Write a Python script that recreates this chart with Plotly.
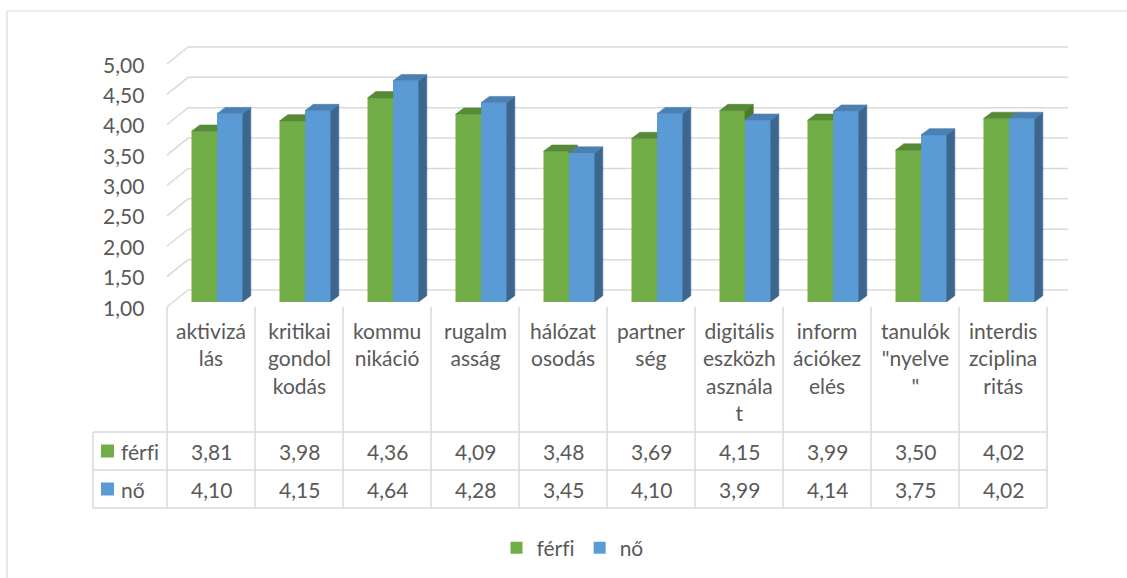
import plotly.graph_objects as go

# ---- data -------------------------------------------------------------
categories = [
    "aktivizá\nlás",
    "kritikai\ngondol\nkodás",
    "kommu\nnikáció",
    "rugalm\nasság",
    "hálózat\nosodás",
    "partner\nség",
    "digitális\neszközh\nasznála\nt",
    "inform\nációkez\nelés",
    "tanulók\n\"nyelve\n\"",
    "interdis\nzciplina\nritás",
]
ferfi = [3.81, 3.98, 4.36, 4.09, 3.48, 3.69, 4.15, 3.99, 3.50, 4.02]
no = [4.10, 4.15, 4.64, 4.28, 3.45, 4.10, 3.99, 4.14, 3.75, 4.02]
series_names = ["férfi", "nő"]
y_ticks = [1.0, 1.5, 2.0, 2.5, 3.0, 3.5, 4.0, 4.5, 5.0]

# ---- geometry / style -------------------------------------------------
W, H = 1127, 578
CAT_PX = 88.0          # pixels per category
X0_PX = 167.0          # left edge of first category
UNIT_PX = 60.75        # pixels per value unit
Y1_PX = 307.0          # pixel row of value 1.00 on the front plane


def X(px):
    return (px - X0_PX) / CAT_PX


def Y(py):
    return 1 + (Y1_PX - py) / UNIT_PX


lift = 5 / UNIT_PX                     # bar plane sits slightly behind the front
dx, dy = 8.3 / CAT_PX, 6.3 / UNIT_PX   # bar depth
wall_dx, wall_dy = 21 / CAT_PX, 17 / UNIT_PX  # back wall depth
bar_left, bar_w = 24.5 / CAT_PX, 25.5 / CAT_PX

TEXT = "#595959"
GRID = "#D9D9D9"
FONT = "Lato"
FS = 21

colors = {
    "férfi": dict(front="#70AD47", top="#568A36", side="#4C7A2F"),
    "nő": dict(front="#5B9BD5", top="#4A80B4", side="#3C6790"),
}


def fmt(v):
    return f"{v:.2f}".replace(".", ",")


def label(s):
    # keep "f" and "i" as separate glyphs (no typographic ligature)
    return s.replace("fi", "f\u200ci")


def poly_xy(polys):
    xs, ys = [], []
    for p in polys:
        if not p:
            continue
        for (a, b) in p:
            xs.append(a)
            ys.append(b)
        xs.append(p[0][0])
        ys.append(p[0][1])
        xs.append(None)
        ys.append(None)
    return xs, ys


def bar_faces(vals, offset, neighbour=None):
    """Top and side faces of the columns; the part hidden behind the
    neighbouring (right-hand) column is cut away."""
    tops, sides = [], []
    for i, v in enumerate(vals):
        x0 = i + offset
        x1 = x0 + bar_w
        t = v + lift
        b = 1 + lift
        full_top = [(x0, t), (x1, t), (x1 + dx, t + dy), (x0 + dx, t + dy)]
        if neighbour is None:
            tops.append(full_top)
            sides.append([(x1, b), (x1, t), (x1 + dx, t + dy), (x1 + dx, b + dy)])
            continue
        tb = neighbour[i] + lift
        if tb <= t:
            tops.append(full_top)
            if tb < t:
                sides.append([(x1, tb), (x1, t), (x1 + dx, t + dy), (x1 + dx, tb + dy)])
        elif tb >= t + dy:
            tops.append([(x0, t), (x1, t), (x1, t + dy), (x0 + dx, t + dy)])
        else:
            s = (t + dy - tb) / dy
            tops.append([(x0, t), (x1, t), (x1, tb), (x1 + dx * s, t + dy), (x0 + dx, t + dy)])
    return tops, sides


fig = go.Figure()

# front faces of the columns
series = [ferfi, no]
offsets = [bar_left, bar_left + bar_w]
for name, vals, off in zip(series_names, series, offsets):
    fig.add_trace(go.Bar(
        x=[i + off + bar_w / 2 for i in range(len(vals))],
        y=[v - 1 for v in vals],
        base=1 + lift,
        width=bar_w,
        name=label(name),
        marker=dict(color=colors[name]["front"], line=dict(width=0)),
        hoverinfo="skip",
    ))

# top and side faces (green first, blue drawn over it)
for k, (name, vals, off) in enumerate(zip(series_names, series, offsets)):
    neighbour = series[k + 1] if k + 1 < len(series) else None
    tops, sides = bar_faces(vals, off, neighbour)
    for polys, key in ((sides, "side"), (tops, "top")):
        xs, ys = poly_xy(polys)
        if not xs:
            continue
        fig.add_trace(go.Scatter(
            x=xs, y=ys, mode="lines", fill="toself",
            fillcolor=colors[name][key],
            line=dict(width=0.6, color=colors[name][key]),
            showlegend=False, hoverinfo="skip",
        ))

shapes = []
x_wall_end = X(1068)
# gridlines: short diagonal on the side wall and the back-wall line
for v in y_ticks:
    shapes.append(dict(type="line", xref="x", yref="y", layer="below",
                       x0=0, y0=v, x1=wall_dx, y1=v + wall_dy,
                       line=dict(color=GRID, width=1.5)))
    shapes.append(dict(type="line", xref="x", yref="y", layer="below",
                       x0=wall_dx, y0=v + wall_dy, x1=x_wall_end, y1=v + wall_dy,
                       line=dict(color=GRID, width=1.5)))

# data table grid
n = len(categories)
y_top, y_r1, y_r2, y_r3 = Y(307), Y(432), Y(470), Y(508)
for k in range(n + 1):
    shapes.append(dict(type="line", xref="x", yref="y", x0=k, x1=k, y0=y_top, y1=y_r3,
                       line=dict(color=GRID, width=1.5)))
for yy in (y_r1, y_r2, y_r3):
    shapes.append(dict(type="line", xref="x", yref="y", x0=X(93), x1=n, y0=yy, y1=yy,
                       line=dict(color=GRID, width=1.5)))
shapes.append(dict(type="line", xref="x", yref="y", x0=X(93), x1=X(93), y0=y_r1, y1=y_r3,
                   line=dict(color=GRID, width=1.5)))

# legend keys inside the table
row_centres = [Y(451), Y(489)]
for name, yc in zip(series_names, row_centres):
    hh = 6.5 / UNIT_PX
    shapes.append(dict(type="rect", xref="x", yref="y", x0=X(101), x1=X(114),
                       y0=yc - hh, y1=yc + hh, fillcolor=colors[name]["front"],
                       line=dict(width=0)))

# chart area border
shapes.append(dict(type="line", xref="paper", yref="paper", x0=7 / W, x1=1, y0=1 - 11 / H, y1=1 - 11 / H,
                   line=dict(color=GRID, width=1.2)))
shapes.append(dict(type="line", xref="paper", yref="paper", x0=7 / W, x1=7 / W, y0=0, y1=1 - 11 / H,
                   line=dict(color=GRID, width=1.2)))

annotations = []
for v in y_ticks:
    annotations.append(dict(x=X(146), y=v, xref="x", yref="y", text=fmt(v),
                            xanchor="right", yanchor="middle", showarrow=False,
                            font=dict(family=FONT, size=FS, color=TEXT)))
for i, c in enumerate(categories):
    annotations.append(dict(x=i + 0.5, y=Y(316), xref="x", yref="y",
                            text=c.replace("\n", "<br>"), xanchor="center", yanchor="top",
                            align="center", showarrow=False,
                            font=dict(family=FONT, size=FS, color=TEXT)))
for name, vals, yc in zip(series_names, series, row_centres):
    annotations.append(dict(x=X(119), y=yc, xref="x", yref="y", text=label(name),
                            xanchor="left", yanchor="middle", showarrow=False,
                            font=dict(family=FONT, size=FS, color=TEXT)))
    for i, v in enumerate(vals):
        annotations.append(dict(x=i + 0.5, y=yc, xref="x", yref="y", text=fmt(v),
                                xanchor="center", yanchor="middle", showarrow=False,
                                font=dict(family=FONT, size=FS, color=TEXT)))

fig.update_layout(
    width=W, height=H, autosize=False,
    margin=dict(l=0, r=0, t=0, b=0),
    paper_bgcolor="white", plot_bgcolor="white",
    barmode="overlay",
    xaxis=dict(range=[X(0), X(W)], visible=False, fixedrange=True),
    yaxis=dict(range=[Y(H), Y(0)], visible=False, fixedrange=True),
    shapes=shapes,
    annotations=annotations,
    showlegend=True,
    legend=dict(orientation="h", x=0.5 + 9 / W, xanchor="center", y=1 - 548 / H, yanchor="middle",
                font=dict(family=FONT, size=FS, color=TEXT), bgcolor="rgba(0,0,0,0)",
                traceorder="normal", itemwidth=30),
)

fig.write_html("out.html")
